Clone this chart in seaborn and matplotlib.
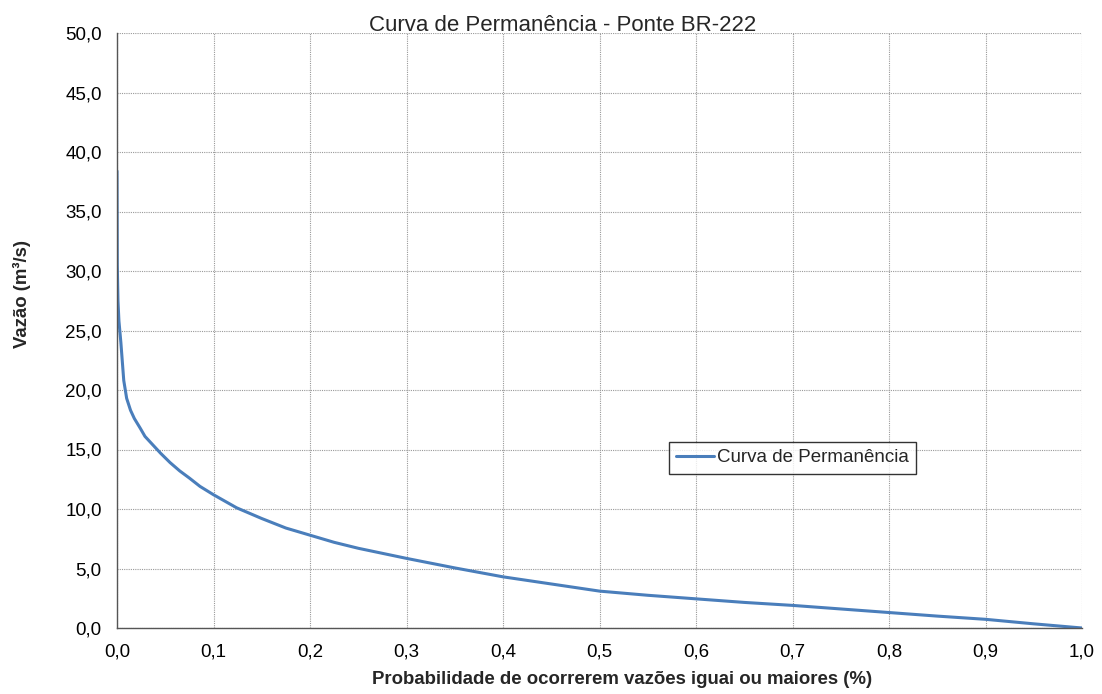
import matplotlib
matplotlib.use("Agg")
import matplotlib.pyplot as plt
import seaborn as sns
import pandas as pd
from matplotlib.ticker import FuncFormatter, MultipleLocator

# Flow-duration curve readings: exceedance probability vs. discharge (m³/s)
probabilidade = [0.000, 0.0003, 0.001, 0.002, 0.004, 0.007, 0.010, 0.014, 0.018,
                 0.024, 0.029, 0.037, 0.045, 0.055, 0.065, 0.075, 0.086, 0.100,
                 0.124, 0.150, 0.175, 0.200, 0.225, 0.250, 0.300, 0.350, 0.400,
                 0.450, 0.500, 0.550, 0.600, 0.650, 0.700, 0.750, 0.800, 0.850,
                 0.900, 0.950, 1.000]
vazao = [38.4, 30.5, 27.5, 25.8, 24.0, 20.8, 19.3, 18.3, 17.6,
         16.8, 16.1, 15.4, 14.7, 13.9, 13.2, 12.6, 11.9, 11.2,
         10.1, 9.2, 8.4, 7.8, 7.2, 6.7, 5.85, 5.05, 4.3,
         3.7, 3.1, 2.75, 2.45, 2.15, 1.9, 1.6, 1.3, 1.0,
         0.73, 0.35, 0.0]

df = pd.DataFrame({"prob": probabilidade, "vazao": vazao})

sns.set_style("white")
plt.rcParams["font.family"] = ["Liberation Sans", "DejaVu Sans"]

W, H = 1102, 694
fig = plt.figure(figsize=(W / 100, H / 100), dpi=100)
ax = fig.add_axes([117 / W, 1 - 628 / H, 965 / W, 595 / H])

sns.lineplot(data=df, x="prob", y="vazao", ax=ax, color="#4a7ebb",
             linewidth=2.2, label="Curva de Permanência")

ax.set_xlim(0, 1.0)
ax.set_ylim(0, 50)
ax.xaxis.set_major_locator(MultipleLocator(0.1))
ax.yaxis.set_major_locator(MultipleLocator(5))
fmt = lambda v, _: f"{v:.1f}".replace(".", ",")
ax.xaxis.set_major_formatter(FuncFormatter(fmt))
ax.yaxis.set_major_formatter(FuncFormatter(fmt))

ax.grid(True, color="#999999", linestyle=(0, (1, 1)), linewidth=0.8)
for side in ("top", "right"):
    ax.spines[side].set_visible(False)
for side in ("left", "bottom"):
    ax.spines[side].set_color("#555555")
    ax.spines[side].set_linewidth(1.0)
ax.tick_params(axis="both", direction="out", length=5, width=1,
               color="#555555", labelsize=13.5, labelcolor="black", pad=6)

# Chart title and axis titles
fig.text(563 / W, 1 - 31 / H, "Curva de Permanência - Ponte BR-222",
         fontsize=16, ha="center", va="baseline")
ax.set_xlabel("Probabilidade de ocorrerem vazões iguai ou maiores (%)",
              fontsize=13.4, fontweight="bold")
ax.xaxis.set_label_coords((622 - 117) / 965, -(679 - 628) / 595)
ax.xaxis.label.set_va("center")
ax.set_ylabel("Vazão (m³/s)", fontsize=13.4, fontweight="bold")
ax.yaxis.set_label_coords(-(117 - 22) / 965, (628 - 294) / 595)
ax.yaxis.label.set_va("center")

leg = ax.legend(loc="center", bbox_to_anchor=(0.70, 0.286), fontsize=13.5,
                frameon=True, fancybox=False, handlelength=2.0,
                handletextpad=0.15, borderpad=0.4, borderaxespad=0)
leg.get_frame().set_edgecolor("black")
leg.get_frame().set_linewidth(1.0)

fig.savefig("out.png", dpi=100)
